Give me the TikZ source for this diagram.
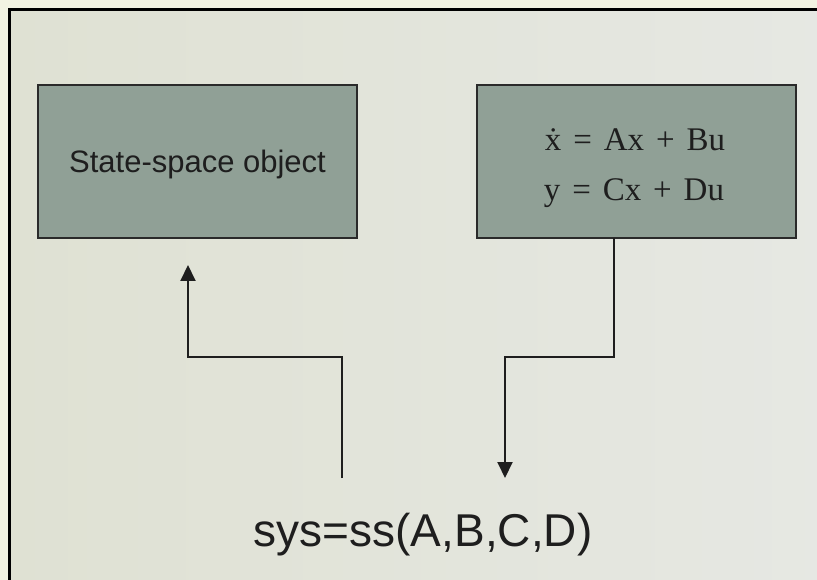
\documentclass[tikz,border=0pt]{standalone}
\usepackage{fontspec}
\setmainfont{Liberation Sans}
\newfontfamily\eqfont{Liberation Serif}
\usetikzlibrary{arrows.meta}
\definecolor{outerbg}{HTML}{F2F3E2}
\definecolor{innerL}{HTML}{DFE1D3}
\definecolor{innerR}{HTML}{E6E8E3}
\definecolor{boxfill}{HTML}{90A096}
\definecolor{boxline}{HTML}{2A2A2A}
\definecolor{ink}{HTML}{1E1E1E}
\tikzset{
  panel/.style={draw=boxline, line width=2pt, fill=boxfill, minimum width=319pt, minimum height=153pt, inner sep=0pt, text=ink},
  wire/.style={draw=ink, line width=2pt},
  arrowwire/.style={wire, -{Triangle[length=16pt,width=15pt]}},
  eqtext/.style={anchor=base, text=ink, font=\eqfont\fontsize{33}{38}\selectfont},
}
\newcommand{\eqgap}{\hspace{0.36em}}
\begin{document}
\begin{tikzpicture}[x=1pt,y=-1pt]
\useasboundingbox (0,0) rectangle (817,580);
\fill[outerbg] (0,0) rectangle (817,580);
\shade[left color=innerL, right color=innerR] (9,10) rectangle (830,600);
\draw[black, line width=3pt] (830,10) -- (9,10) -- (9,600);

\node[panel] (obj) at (197.5,161.5) {};
\node[anchor=base, text=ink, font=\fontsize{31}{36}\selectfont] (objtxt) at (197.5,173) {State-space object};

\node[panel] (eqs) at (636.5,161.5) {};
\node[eqtext] (eq1) at (635,151) {\.{x}\eqgap=\eqgap Ax\eqgap+\eqgap Bu};
\node[eqtext] (eq2) at (634,201) {y\eqgap=\eqgap Cx\eqgap+\eqgap Du};

\node[anchor=base, text=ink, font=\fontsize{46}{52}\selectfont] (sys) at (423,546) {sys=ss(A,B,C,D)};

\coordinate (lstart) at (342,478);
\coordinate (ltip) at (188,265);
\coordinate (rstart) at (614,238);
\coordinate (rtip) at (505,478);

\draw[arrowwire] (lstart) -- (342,357) -- (188,357) -- (ltip);
\draw[arrowwire] (rstart) -- (614,357) -- (505,357) -- (rtip);
\end{tikzpicture}
\end{document}
